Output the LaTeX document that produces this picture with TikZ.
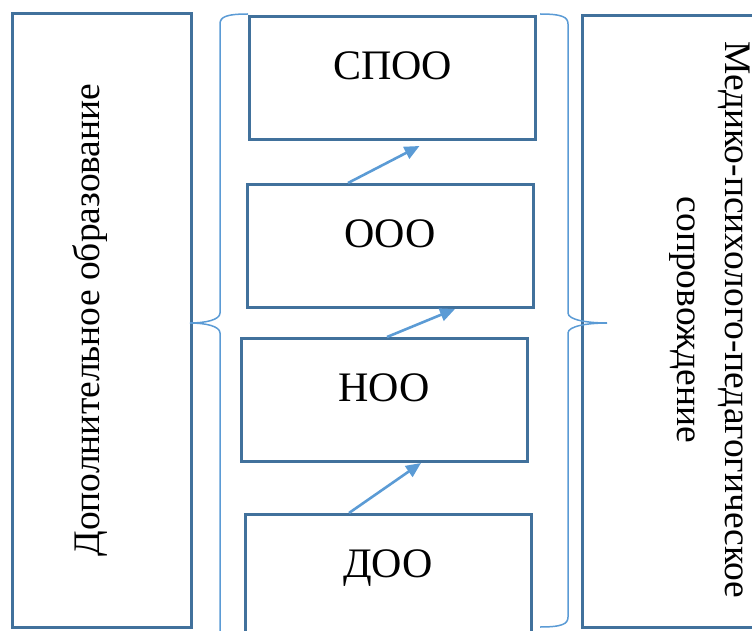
\documentclass[tikz,border=0pt]{standalone}
\usepackage{fontspec}
\setmainfont{Liberation Serif}
\usetikzlibrary{arrows.meta}

\definecolor{boxblue}{RGB}{65,113,156}
\definecolor{lineblue}{RGB}{91,155,213}

\tikzset{
  stage/.style={draw=boxblue, line width=3pt, anchor=north, minimum width=286pt,
    inner sep=0pt, text height=63pt, text depth=60pt, font=\fontsize{42}{48}\selectfont},
  side/.style={draw=boxblue, line width=3pt, inner sep=0pt},
  sidetext/.style={inner sep=0pt, font=\fontsize{37.5}{48}\selectfont},
  uparrow/.style={draw=lineblue, line width=2.6pt, -{Triangle[length=15pt,width=13pt]}},
  brace/.style={draw=lineblue, line width=1.5pt}
}

\begin{document}
\begin{tikzpicture}[x=1pt,y=1pt]
  \useasboundingbox (0,0) rectangle (752,-631);

  \node [side, anchor=north west, minimum width=179pt, minimum height=614pt]
    at (11,-12) (Extra) {};
  \node [sidetext, rotate=90] at (90,-320) (ExtraText) {Дополнительное образование};
  \node [side, anchor=north west, minimum width=180pt, minimum height=612pt]
    at (581,-14) (Support) {};
  \node [sidetext, rotate=-90, align=center] at (709.5,-320) (SupportText)
    {Медико-психолого-педагогическое\\сопровождение};

  \node [stage] at (392.5,-15) (Spoo) {СПОО};
  \node [stage] at (390,-183)  (Ooo)  {ООО};
  \node [stage] at (384,-337)  (Noo)  {НОО};
  \node [stage] at (388,-513)  (Doo)  {ДОО};

  \draw [uparrow] ([xshift=-42pt]Ooo.north) -- ([xshift=27pt,yshift=-5pt]Spoo.south);
  \draw [uparrow] ([xshift=3pt]Noo.north)   -- ([xshift=65pt]Ooo.south);
  \draw [uparrow] ([xshift=-39pt]Doo.north) -- ([xshift=37pt]Noo.south);

  \draw [brace] (248,-14) .. controls (226,-14) and (220,-17) .. (220,-24)
    -- (220,-313) .. controls (220,-320) and (205,-323) .. (190,-323)
    .. controls (205,-323) and (220,-326) .. (220,-333) -- (220,-634);
  \draw [brace] (540,-14) .. controls (562,-14) and (568,-17) .. (568,-24)
    -- (568,-313) .. controls (568,-320) and (588,-323) .. (607,-323)
    .. controls (588,-323) and (568,-326) .. (568,-333) -- (568,-617)
    .. controls (568,-624) and (562,-627) .. (540,-627);
\end{tikzpicture}
\end{document}
